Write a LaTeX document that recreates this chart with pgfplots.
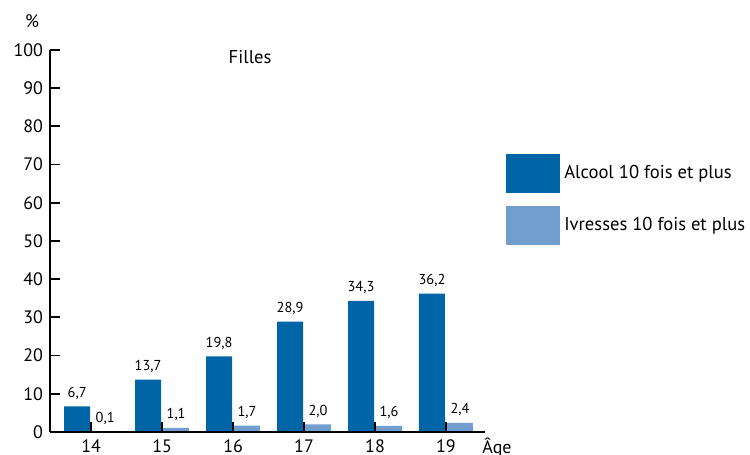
\documentclass[border=0pt]{standalone}
\usepackage{fontspec}
\setmainfont{PT Sans}
\usepackage{pgfplots}
\pgfplotsset{compat=1.18}
\definecolor{darkblue}{RGB}{0,101,166}
\definecolor{lightblue}{RGB}{113,158,206}

\begin{document}
\begin{tikzpicture}
\path[use as bounding box] (-25pt,-11.5pt) rectangle (350pt,216pt);
\begin{axis}[
    scale only axis,
    width=217.5pt, height=191pt,
    xmin=13.42, xmax=19.55,
    ymin=0, ymax=100,
    axis x line*=bottom, axis y line*=left,
    axis on top,
    axis line style={line width=0.9pt},
    major tick style={line width=0.9pt, black},
    xtick style={yshift=5pt},
    tick align=inside,
    major tick length=5pt,
    xtick={14,...,19},
    ytick={0,10,...,100},
    tick label style={font=\fontsize{9}{10}\selectfont},
    /pgf/number format/assume math mode=true,
    xticklabel style={anchor=base, yshift=-5.5pt},
    ybar=1pt,
    bar width=13pt,
    nodes near coords={\pgfmathprintnumber[fixed, fixed zerofill, precision=1, use comma, assume math mode=true]{\pgfplotspointmeta}},
    nodes near coords style={font=\fontsize{7.2}{8}\selectfont, black},
    legend cell align=left,
    legend style={at={(axis description cs:1.048,0.730)}, anchor=north west,
        draw=none, fill=none, inner sep=0pt, row sep=6.5pt,
        font=\fontsize{9.3}{10}\selectfont,
        /tikz/every even column/.append style={column sep=1.5pt}},
    clip=false,
]
\addplot[fill=darkblue, draw=none,
    legend image code/.code={\fill[darkblue] (0pt,-9.75pt) rectangle (27pt,9.75pt);}]
    coordinates {(14,6.7) (15,13.7) (16,19.8) (17,28.9) (18,34.3) (19,36.2)};
\addplot[fill=lightblue, draw=none,
    legend image code/.code={\fill[lightblue] (0pt,-9.75pt) rectangle (27pt,9.75pt);}]
    coordinates {(14,0.1) (15,1.1) (16,1.7) (17,2.0) (18,1.6) (19,2.4)};
\legend{Alcool 10 fois et plus, Ivresses 10 fois et plus}
\node[font=\fontsize{9.3}{10}\selectfont] at (axis description cs:0.46,0.982) {Filles};
\node[font=\fontsize{9}{10}\selectfont] at (axis description cs:-0.041,1.075) {\%};
\node[font=\fontsize{9}{10}\selectfont, anchor=base west] at (axis description cs:0.978,-0.055) {Âge};
\end{axis}
\end{tikzpicture}
\end{document}
